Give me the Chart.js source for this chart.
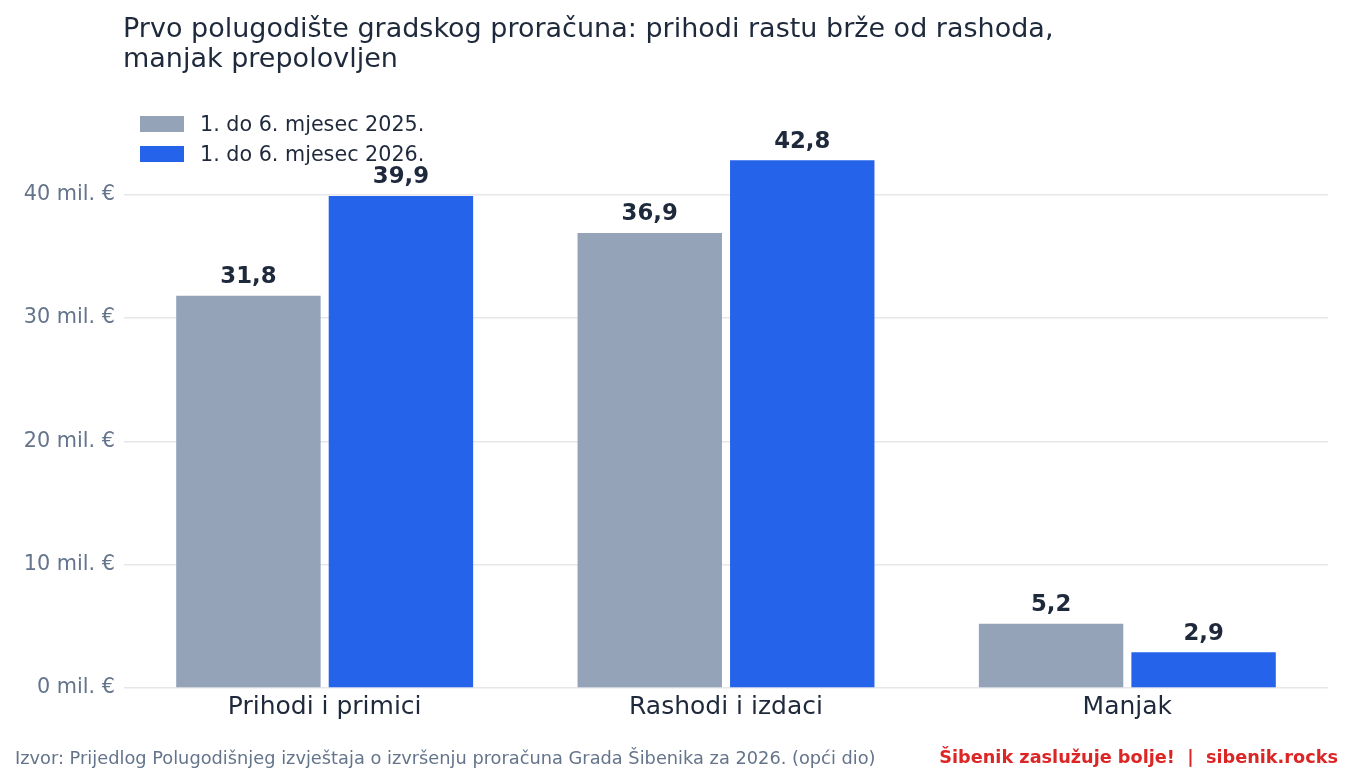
<!DOCTYPE html>
<html><head><meta charset="utf-8">
<script src="https://cdn.jsdelivr.net/npm/chart.js@4"></script>
<style>
html,body{margin:0;padding:0;background:#fff;font-family:"DejaVu Sans",sans-serif;}
#wrap{position:relative;width:1353px;height:782px;overflow:hidden;}
canvas{position:absolute;left:0;top:0;}
#title{position:absolute;left:123px;top:13px;font-size:27px;line-height:30px;color:#1e293b;}
#legend{position:absolute;left:140px;top:109px;font-size:20.7px;color:#1e293b;}
.li{height:30px;display:flex;align-items:center;}
.li span.b{display:inline-block;width:44px;height:16px;margin-right:16px;}
#foot{position:absolute;left:15px;top:747px;font-size:17.8px;color:#64748b;}
#brand{position:absolute;right:15px;top:747px;font-size:17.7px;color:#dc2626;font-weight:bold;}
</style></head>
<body><div id="wrap">
<canvas id="c" width="1353" height="782"></canvas>
<div id="title">Prvo polugodište gradskog proračuna: prihodi rastu brže od rashoda,<br>manjak prepolovljen</div>
<div id="legend"></div>
<div id="foot">Izvor: Prijedlog Polugodišnjeg izvještaja o izvršenju proračuna Grada Šibenika za 2026. (opći dio)</div>
<div id="brand">Šibenik zaslužuje bolje! &nbsp;|&nbsp; sibenik.rocks</div>
</div>
<script>
const categories = ["Prihodi i primici", "Rashodi i izdaci", "Manjak"];
const seriesNames = ["1. do 6. mjesec 2025.", "1. do 6. mjesec 2026."];
const values2025 = [31.8, 36.9, 5.2];
const values2026 = [39.9, 42.8, 2.9];
const colors = ["#94a3b8", "#2563eb"];

const leg = document.getElementById('legend');
seriesNames.forEach((n,i)=>{
  const d=document.createElement('div');d.className='li';
  d.innerHTML='<span class="b" style="background:'+colors[i]+'"></span>'+n;
  leg.appendChild(d);
});

const labelPlugin = {
  id:'vals',
  afterDatasetsDraw(chart){
    const ctx=chart.ctx;
    ctx.save();
    ctx.font='bold 22.8px "DejaVu Sans"';
    ctx.fillStyle='#1e293b';
    ctx.textAlign='center';
    ctx.textBaseline='bottom';
    chart.data.datasets.forEach((ds,di)=>{
      chart.getDatasetMeta(di).data.forEach((bar,i)=>{
        ctx.fillText(ds.data[i].toFixed(1).replace('.',','), bar.x, bar.y-7);
      });
    });
    ctx.restore();
  }
};

new Chart(document.getElementById('c'),{
  type:'bar',
  data:{labels:categories,datasets:[
    {label:seriesNames[0],data:values2025,backgroundColor:colors[0]},
    {label:seriesNames[1],data:values2026,backgroundColor:colors[1]}
  ]},
  options:{
    responsive:false,animation:false,
    layout:{padding:{top:133,right:25,left:0,bottom:0}},
    datasets:{bar:{categoryPercentage:0.76,barPercentage:0.947}},
    plugins:{legend:{display:false},title:{display:false},tooltip:{enabled:false}},
    scales:{
      x:{
        grid:{display:false},border:{display:false},
        ticks:{color:'#1e293b',font:{family:'DejaVu Sans',size:25},padding:-4},
        afterFit(s){s.height=94;}
      },
      y:{
        min:0,max:45,
        border:{display:false},
        grid:{color:(c)=>c.tick && c.tick.value===45?'rgba(0,0,0,0)':'#e5e7eb',drawTicks:false,lineWidth:1.5},
        ticks:{stepSize:10,color:'#64748b',font:{family:'DejaVu Sans',size:20.8},padding:9,
          callback:(v)=>v===45?'':v+' mil. €'},
        afterFit(s){s.width=124;}
      }
    }
  },
  plugins:[labelPlugin]
});
</script>
</body></html>
